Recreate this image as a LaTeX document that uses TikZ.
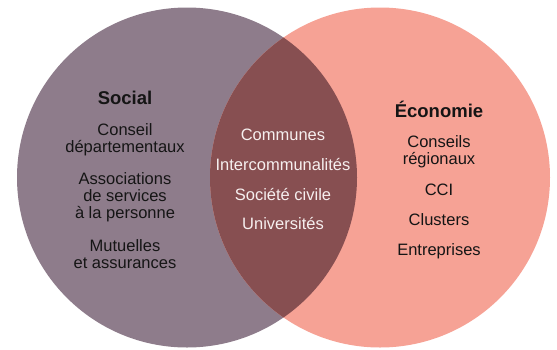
\documentclass[tikz,border=0pt]{standalone}
\usepackage{fontspec}
\setmainfont{Liberation Sans}
\definecolor{socialc}{HTML}{8E7C8B}
\definecolor{ecoc}{HTML}{F6A295}
\definecolor{interc}{HTML}{874F51}
\definecolor{darktext}{HTML}{151515}
\definecolor{lighttext}{HTML}{F6EFEF}
\tikzset{
  lbl/.style={anchor=base, align=center, inner sep=0pt, font=\fontsize{16.5}{17}\selectfont, text=darktext},
  ilbl/.style={lbl, text=lighttext},
  ttl/.style={anchor=base, inner sep=0pt, font=\fontsize{18.5}{20}\selectfont\bfseries, text=darktext}
}
\begin{document}
\begin{tikzpicture}[x=1pt,y=-1pt]
\useasboundingbox (0,0) rectangle (557,349);
\fill[socialc] (187,177.5) circle (170);
\fill[ecoc] (380,177.5) circle (170);
\begin{scope}
  \clip (187,177.5) circle (170);
  \fill[interc] (380,177.5) circle (170);
\end{scope}
% Social
\node[ttl] (soc) at (125,104) {Social};
\node[lbl] (s1) at (125,152) {Conseil\\départementaux};
\node[lbl] (s2) at (125,218) {Associations\\de services\\à la personne};
\node[lbl] (s3) at (125,268) {Mutuelles\\et assurances};
% Intersection
\node[ilbl] (i1) at (283,140) {Communes};
\node[ilbl] (i2) at (283,170) {Intercommunalités};
\node[ilbl] (i3) at (283,200) {Société civile};
\node[ilbl] (i4) at (283,229) {Universités};
% Economie
\node[ttl] (eco) at (439,117) {Économie};
\node[lbl] (e1) at (439,164) {Conseils\\régionaux};
\node[lbl] (e2) at (439,195) {CCI};
\node[lbl] (e3) at (439,225) {Clusters};
\node[lbl] (e4) at (439,255) {Entreprises};
\end{tikzpicture}
\end{document}
